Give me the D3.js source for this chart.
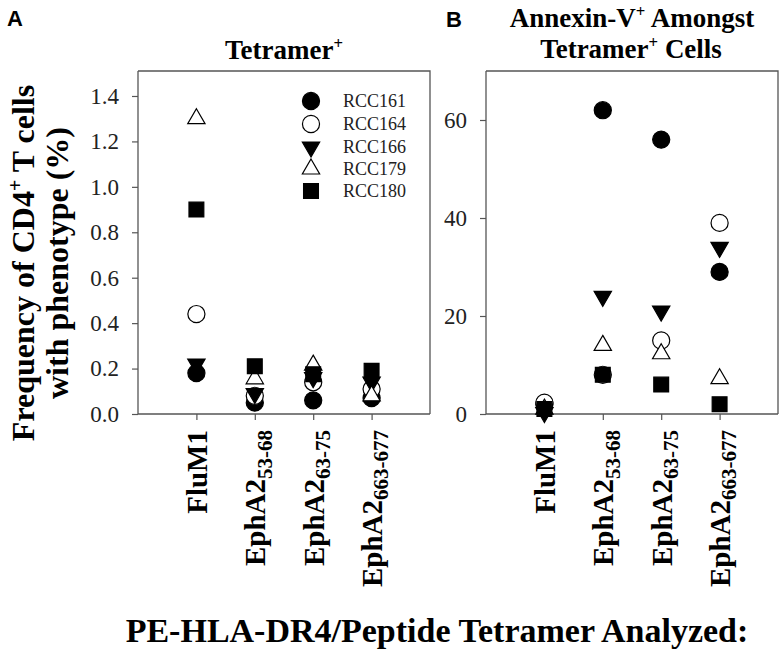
<!DOCTYPE html>
<html>
<head>
<meta charset="utf-8">
<script src="https://cdn.jsdelivr.net/npm/d3@7"></script>
<style>
  html, body { margin: 0; padding: 0; background: #fff; }
  svg { display: block; }
</style>
</head>
<body>
<svg id="chart" width="784" height="651"></svg>
<script>
// ---------- data ----------
const categories = ["FluM1", "EphA2_53-68", "EphA2_63-75", "EphA2_663-677"];
const catMain = ["FluM1", "EphA2", "EphA2", "EphA2"];
const catSub  = ["", "53-68", "63-75", "663-677"];
const seriesNames = ["RCC161", "RCC164", "RCC166", "RCC179", "RCC180"];

// Panel A: frequency of CD4+ T cells with Tetramer+ phenotype (%)
const freqRCC161 = [0.18, 0.05, 0.06, 0.07];
const freqRCC164 = [0.44, 0.08, 0.14, 0.11];
const freqRCC166 = [0.22, 0.09, 0.16, 0.14];
const freqRCC179 = [1.30, 0.155, 0.215, 0.08];
const freqRCC180 = [0.90, 0.21, 0.175, 0.19];

// Panel B: Annexin-V+ amongst Tetramer+ cells (%)
const annRCC161 = [2.0, 62, 56, 29];
const annRCC164 = [2.3, 8, 15, 39];
const annRCC166 = [0.3, 24, 21, 34];
const annRCC179 = [1.0, 14, 12.3, 7.2];
const annRCC180 = [1.0, 8, 6, 2];

const ticksA = [0, 0.2, 0.4, 0.6, 0.8, 1.0, 1.2, 1.4];
const ticksB = [0, 20, 40, 60];

const seriesA = [freqRCC161, freqRCC164, freqRCC166, freqRCC179, freqRCC180];
const seriesB = [annRCC161, annRCC164, annRCC166, annRCC179, annRCC180];

// ---------- styling ----------
const serif = "'Liberation Serif', 'Times New Roman', serif";
const sans = "'Liberation Sans', Arial, sans-serif";
const axisColor = "#555";
const symbolDefs = [
  { type: d3.symbolCircle,   size: 230, fill: "#000", rot: 0 },
  { type: d3.symbolCircle,   size: 230, fill: "#fff", rot: 0 },
  { type: d3.symbolTriangle, size: 130, fill: "#000", rot: 180 },
  { type: d3.symbolTriangle, size: 130, fill: "#fff", rot: 0 },
  { type: d3.symbolSquare,   size: 220, fill: "#000", rot: 0 }
];

const svg = d3.select("#chart");

function drawPanel(opts) {
  const { x0, x1, yTop, yBot, yDomain, ticks, fmt, series } = opts;
  const x = d3.scaleLinear().domain([0, 5]).range([x0, x1]);
  const y = d3.scaleLinear().domain(yDomain).range([yBot, yTop]);
  const g = svg.append("g");

  // frame (top and right)
  g.append("path")
    .attr("d", `M${x0},${yTop}H${x1}V${yBot}`)
    .attr("fill", "none").attr("stroke", axisColor).attr("stroke-width", 1.3);

  // y axis
  const yAxis = d3.axisLeft(y).tickValues(ticks).tickFormat(fmt).tickSizeOuter(0).tickSize(6).tickPadding(13);
  const ya = g.append("g").attr("transform", `translate(${x0},0)`).call(yAxis);
  ya.select(".domain").attr("stroke", axisColor).attr("stroke-width", 1.3)
    .attr("d", `M0,${yTop}V${yBot}`);
  ya.selectAll(".tick line").attr("stroke", axisColor).attr("stroke-width", 1.2);
  ya.selectAll(".tick text").attr("font-family", serif).attr("font-size", 23).attr("fill", "#222");

  // x axis
  const xAxis = d3.axisBottom(x).tickValues([1, 2, 3, 4]).tickFormat("").tickSizeOuter(0).tickSize(6);
  const xa = g.append("g").attr("transform", `translate(0,${yBot})`).call(xAxis);
  xa.select(".domain").attr("stroke", axisColor).attr("stroke-width", 1.3)
    .attr("d", `M${x0},0H${x1}`);
  xa.selectAll(".tick line").attr("stroke", axisColor).attr("stroke-width", 1.2);

  // rotated category labels
  categories.forEach((c, i) => {
    const t = g.append("text")
      .attr("transform", `translate(${x(i + 1)},${yBot + 16}) rotate(-90)`)
      .attr("text-anchor", "end")
      .attr("dy", "0.36em")
      .attr("font-family", serif).attr("font-weight", "bold")
      .attr("font-size", 29).attr("fill", "#000");
    t.append("tspan").text(catMain[i]);
    if (catSub[i]) {
      t.append("tspan").attr("font-size", 21).attr("dy", "0.3em").text(catSub[i]);
    }
  });

  // points
  series.forEach((vals, s) => {
    const sd = symbolDefs[s];
    const gen = d3.symbol().type(sd.type).size(sd.size);
    g.append("g").selectAll("path").data(vals).join("path")
      .attr("d", gen)
      .attr("transform", (v, i) => `translate(${x(i + 1)},${y(v)}) rotate(${sd.rot})`)
      .attr("fill", sd.fill)
      .attr("stroke", "#000")
      .attr("stroke-width", 1.2);
  });
  return { x, y, g };
}

// Panel A
const pA = drawPanel({
  x0: 138, x1: 430, yTop: 71, yBot: 414, yDomain: [0, 1.51],
  ticks: ticksA, fmt: d3.format(".1f"), series: seriesA
});

// Panel B
const pB = drawPanel({
  x0: 486, x1: 778, yTop: 71, yBot: 414, yDomain: [0, 70],
  ticks: ticksB, fmt: d3.format("d"), series: seriesB
});

// legend in panel A
const legY = [101, 124, 147, 169, 191];
const leg = svg.append("g");
seriesNames.forEach((name, s) => {
  const sd = symbolDefs[s];
  leg.append("path")
    .attr("d", d3.symbol().type(sd.type).size(sd.size)())
    .attr("transform", `translate(311,${legY[s]}) rotate(${sd.rot})`)
    .attr("fill", sd.fill).attr("stroke", "#000").attr("stroke-width", 1.2);
  leg.append("text").attr("x", 343).attr("y", legY[s]).attr("dy", "0.35em")
    .attr("font-family", serif).attr("font-size", 18).attr("fill", "#222").text(name);
});

// panel letters
svg.append("text").attr("x", 7).attr("y", 26).attr("font-family", sans).attr("font-weight", "bold")
  .attr("font-size", 22).text("A");
svg.append("text").attr("x", 446).attr("y", 27).attr("font-family", sans).attr("font-weight", "bold")
  .attr("font-size", 22).text("B");

// titles
function supText(x, y, parts, size) {
  const t = svg.append("text").attr("x", x).attr("y", y).attr("text-anchor", "middle")
    .attr("font-family", serif).attr("font-weight", "bold").attr("font-size", size).attr("fill", "#000");
  parts.forEach(p => {
    if (p.sup) {
      t.append("tspan").attr("font-size", size * 0.62).attr("dy", -size * 0.38).text(p.t);
    } else if (p.down) {
      t.append("tspan").attr("dy", size * 0.38).text(p.t);
    } else {
      t.append("tspan").text(p.t);
    }
  });
  return t;
}
supText(284, 59, [{ t: "Tetramer" }, { t: "+", sup: true }], 27);
supText(632, 27, [{ t: "Annexin-V" }, { t: "+", sup: true }, { t: " Amongst", down: true }], 27);
supText(631, 58, [{ t: "Tetramer" }, { t: "+", sup: true }, { t: " Cells", down: true }], 27);

// y axis title panel A (two lines, rotated)
const yl = svg.append("g").attr("transform", "translate(34,263) rotate(-90)");
const yl1 = yl.append("text").attr("text-anchor", "middle").attr("font-family", serif)
  .attr("font-weight", "bold").attr("font-size", 32).attr("fill", "#000");
yl1.append("tspan").text("Frequency of CD4");
yl1.append("tspan").attr("font-size", 20).attr("dy", -12).text("+");
yl1.append("tspan").attr("dy", 12).text(" T cells");
yl.append("text").attr("y", 34).attr("text-anchor", "middle").attr("font-family", serif)
  .attr("font-weight", "bold").attr("font-size", 32).attr("fill", "#000").text("with phenotype (%)");

// x axis title
svg.append("text").attr("x", 437).attr("y", 642).attr("text-anchor", "middle")
  .attr("font-family", serif).attr("font-weight", "bold").attr("font-size", 34).attr("fill", "#000")
  .text("PE-HLA-DR4/Peptide Tetramer Analyzed:");
</script>
</body>
</html>
